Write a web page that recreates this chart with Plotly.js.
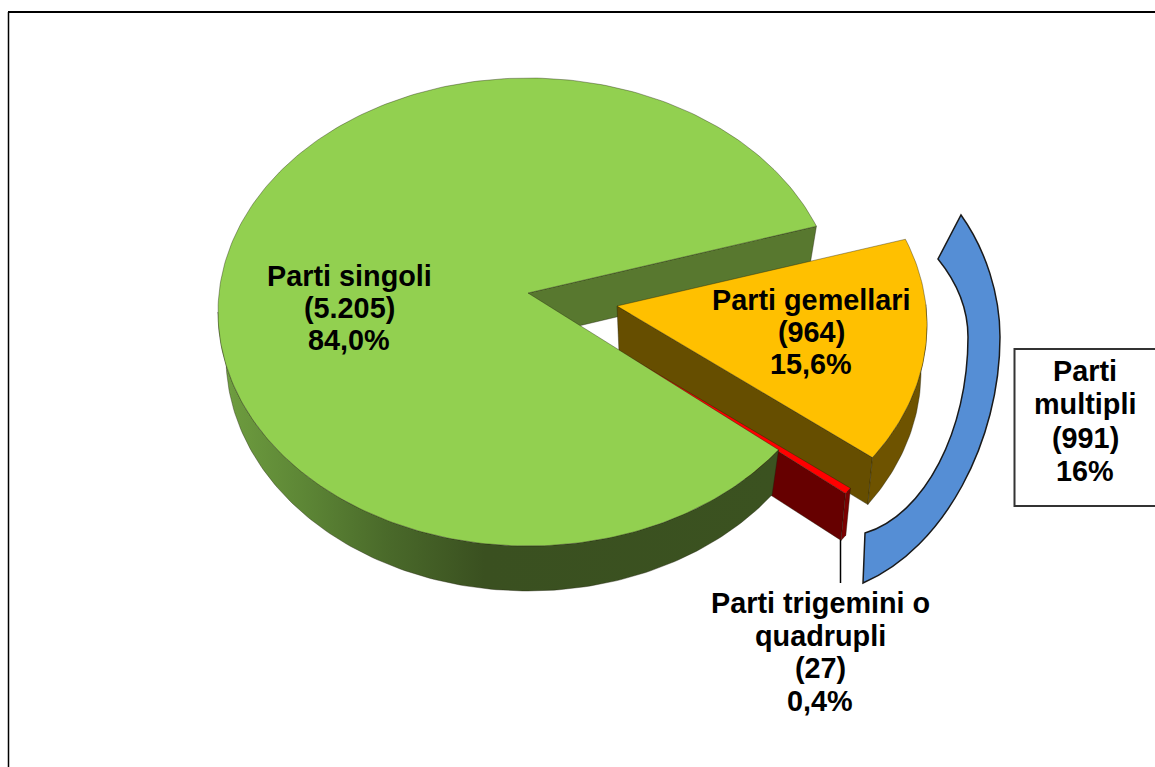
<!DOCTYPE html>
<html>
<head>
<meta charset="utf-8">
<script src="https://cdn.plot.ly/plotly-3.0.1.min.js"></script>
<style>html,body{margin:0;padding:0;background:#fff}#chart{width:1155px;height:767px}</style>
</head>
<body>
<div id="chart"></div>
<script>
const categories = ["Parti singoli", "Parti trigemini o quadrupli", "Parti gemellari"];
const values = [5205, 27, 964];
const countLabels = ["5.205", "27", "964"];
const percentLabels = ["84,0%", "0,4%", "15,6%"];
const multipleLabel = ["Parti", "multipli", "(991)", "16%"];

// Drawing geometry (pixel-scale axes): perspective disc for each exploded slice
const RX = 310, RY = 234, RXB = 302, APEX_DY = -19, START = 21.5;
const discs = [
  {cx: 528, cy: 312, bx: 528, by: 357},
  {cx: 595, cy: 355.6, bx: 597, by: 402.6},
  {cx: 617, cy: 325, bx: 619, by: 372}
];
const total = values.reduce((a, b) => a + b, 0);
let acc = START;
const spans = values.map(v => { const s = [acc, acc + v / total * 360]; acc = s[1]; return s; });

const rad = d => d * Math.PI / 180;
function topPt(d, t) { return [d.cx + RX * Math.cos(rad(t)), d.cy - RY * Math.sin(rad(t))]; }
function botPt(d, t) { return [d.bx + RXB * Math.cos(rad(t)), d.by - RY * Math.sin(rad(t))]; }
function steps(a, b) { const n = Math.max(2, Math.ceil(Math.abs(b - a))); return Array.from({length: n + 1}, (_, i) => a + (b - a) * i / n); }
function poly(pts, fill, opts) {
  return Object.assign({
    type: "scatter", mode: "lines", x: pts.map(p => p[0]), y: pts.map(p => p[1]),
    fill: "toself", fillcolor: fill, hoverinfo: "skip", showlegend: false,
    line: {color: "rgba(30,30,10,0.5)", width: 0.75}
  }, opts || {});
}
function face(d, s) {
  return [[d.cx, d.cy + APEX_DY]].concat(steps(s[0], s[1]).map(t => topPt(d, t))).concat([[d.cx, d.cy + APEX_DY]]);
}
function rimWall(d, a, b) {
  const ts = steps(a, b);
  const p = ts.map(t => topPt(d, t)).concat(ts.slice().reverse().map(t => botPt(d, t)));
  p.push(p[0]);
  return p;
}
function cutWall(d, t) {
  const a = [d.cx, d.cy + APEX_DY], b = topPt(d, t), c = botPt(d, t), e = [d.bx, d.by + APEX_DY];
  return [a, b, c, e, a];
}

const [G, R, Y] = discs;
const [sG, sR, sY] = spans;
const traces = [
  poly(cutWall(G, sG[0]), "#58782f"),
  poly(cutWall(Y, sY[0]), "#664e00"),
  poly(rimWall(Y, sY[0], 365), "#6e5300"),
  poly(face(Y, sY), "#ffc000"),
  poly(cutWall(R, sR[0]), "#660000"),
  poly(rimWall(R, sR[0], sR[1]), "#7a0000"),
  poly(face(R, sR), "#ff0000"),
  poly(rimWall(G, 180, sG[1]), "#3a5020", {
    fillgradient: {type: "horizontal", colorscale: [
      [0, "#76a546"], [0.03, "#6c9a3e"], [0.16, "#5c8535"], [0.30, "#4a6a2a"], [0.475, "#3a5020"], [1, "#3b5220"]
    ]}
  }),
  poly(face(G, sG), "#92d050")
];

const font = {family: "Liberation Sans, Arial, sans-serif", size: 28.8, color: "#000"};
function block(lines, x, yFirst, pitch) {
  return lines.map((s, i) => ({
    text: "<b>" + s + "</b>", x: x, y: yFirst + i * pitch, xref: "x", yref: "y", showarrow: false,
    align: "center", xanchor: "center", yanchor: "middle", font: font
  }));
}
const annotations = [].concat(
  block([categories[0], "(" + countLabels[0] + ")", percentLabels[0]], 349, 276, 32),
  block([categories[2], "(" + countLabels[2] + ")", percentLabels[2]], 811, 300, 32),
  block(["Parti trigemini o", "quadrupli", "(" + countLabels[1] + ")", percentLabels[1]], 820, 603, 32.6),
  block(multipleLabel, 1085, 371, 33.3)
);

const bracePath = "M 961 215 C 986 250 1000 295 1000 337 C 1000 440 945 548 863 583 L 865 533 C 925 515 968 430 968 337 C 968 305 955 280 938 259 Z";
const shapes = [
  {type: "line", x0: 8, x1: 1155, y0: 12, y1: 12, xref: "x", yref: "y", line: {color: "#000", width: 2}},
  {type: "line", x0: 8.5, x1: 8.5, y0: 12, y1: 767, xref: "x", yref: "y", line: {color: "#000", width: 1.5}},
  {type: "path", path: bracePath, xref: "x", yref: "y", fillcolor: "#558ed5", line: {color: "#1a1a1a", width: 1.5}},
  {type: "rect", x0: 1014.5, x1: 1170, y0: 349, y1: 506, xref: "x", yref: "y", fillcolor: "#fff", line: {color: "#333", width: 2}},
  {type: "line", x0: 840.5, x1: 840.5, y0: 540, y1: 583, xref: "x", yref: "y", line: {color: "#000", width: 1.5}}
];

Plotly.newPlot("chart", traces, {
  width: 1155, height: 767,
  margin: {l: 0, r: 0, t: 0, b: 0, pad: 0},
  paper_bgcolor: "#fff", plot_bgcolor: "#fff",
  xaxis: {range: [0, 1155], visible: false, fixedrange: true},
  yaxis: {range: [767, 0], visible: false, fixedrange: true},
  showlegend: false, shapes: shapes, annotations: annotations, hovermode: false
}, {displayModeBar: false, staticPlot: true});
</script>
</body>
</html>
